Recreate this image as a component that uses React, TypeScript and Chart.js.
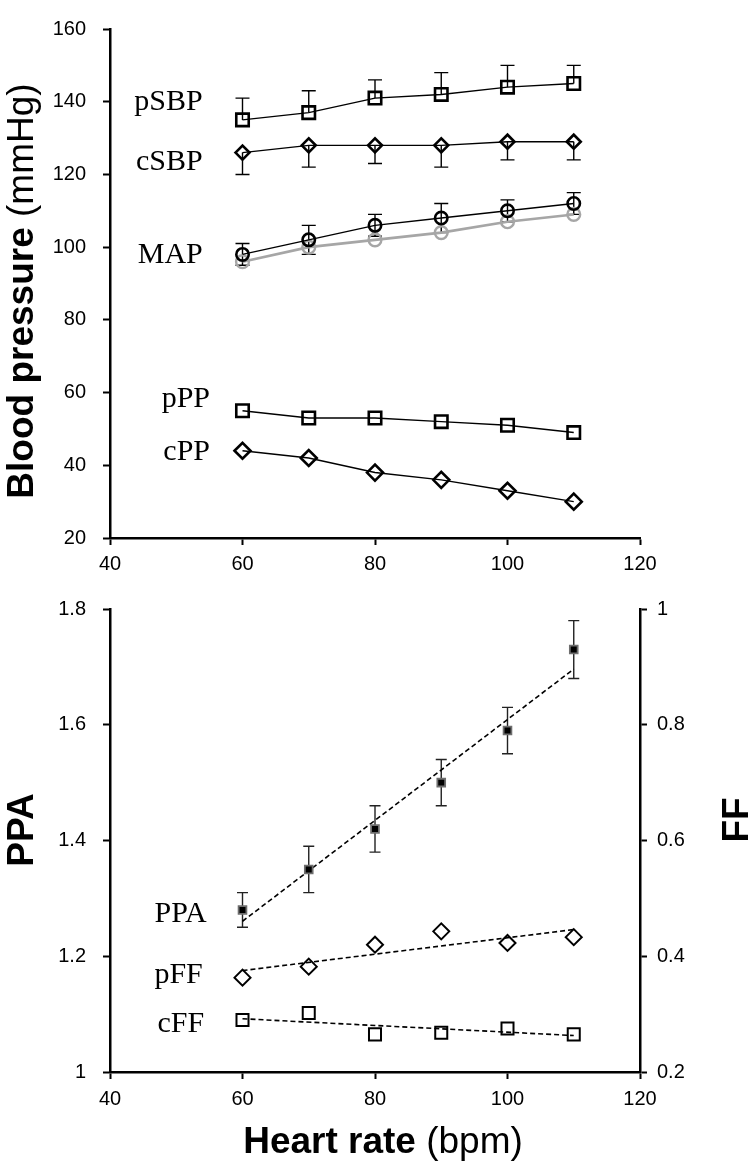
import React, { useEffect, useRef } from 'react';
import { Chart, registerables } from 'chart.js';
Chart.register(...registerables);

// ---------- data ----------
const heartRate = [60, 70, 80, 90, 100, 110];

const pSBP = [135, 137, 141, 142, 144, 145];
const pSBPErrUp = [6, 6, 5, 6, 6, 5];
const cSBP = [126, 128, 128, 128, 129, 129];
const cSBPErrDown = [6, 6, 5, 6, 5, 5];
const mapMeasured = [98, 102, 106, 108, 110, 112];
const mapErr = [3, 4, 3, 4, 3, 3];
const mapGrey = [96, 100, 102, 104, 107, 109];
const pPP = [55, 53, 53, 52, 51, 49];
const cPP = [44, 42, 38, 36, 33, 30];

const ppa = [1.28, 1.35, 1.42, 1.5, 1.59, 1.73];
const ppaErr = [0.03, 0.04, 0.04, 0.04, 0.04, 0.05];
const pFF = [0.363, 0.382, 0.42, 0.443, 0.423, 0.433];
const cFF = [0.29, 0.302, 0.265, 0.268, 0.275, 0.265];

const topLabels = ['pSBP', 'cSBP', 'MAP', 'pPP', 'cPP'];
const bottomLabels = ['PPA', 'pFF', 'cFF'];

// ---------- helpers ----------
const pts = (ys: number[]) => heartRate.map((x, i) => ({ x, y: ys[i] }));
const trend = (ys: number[]) => {
  const n = heartRate.length;
  const mx = heartRate.reduce((a, b) => a + b, 0) / n;
  const my = ys.reduce((a, b) => a + b, 0) / n;
  let sxy = 0, sxx = 0;
  heartRate.forEach((x, i) => { sxy += (x - mx) * (ys[i] - my); sxx += (x - mx) * (x - mx); });
  const b = sxy / sxx;
  const a = my - b * mx;
  const x0 = heartRate[0], x1 = heartRate[n - 1];
  return [{ x: x0, y: a + b * x0 }, { x: x1, y: a + b * x1 }];
};

const SANS = '"Liberation Sans", Arial, sans-serif';
const SERIF = '"Liberation Serif", "Times New Roman", serif';

const errorBarPlugin = {
  id: 'errorBars',
  beforeDatasetsDraw(chart: any) {
    const ctx = chart.ctx;
    chart.data.datasets.forEach((ds: any, i: number) => {
      if (!ds.errUp && !ds.errDown) return;
      const meta = chart.getDatasetMeta(i);
      const ys = chart.scales[ds.yAxisID || 'y'];
      const cap = ds.capWidth || 14;
      ctx.save();
      ctx.strokeStyle = ds.errColor || '#000';
      ctx.lineWidth = 1.4;
      meta.data.forEach((pt: any, j: number) => {
        const v = ds.data[j].y;
        const up = ds.errUp ? ds.errUp[j] : 0;
        const dn = ds.errDown ? ds.errDown[j] : 0;
        const x = pt.x;
        const yt = ys.getPixelForValue(v + up);
        const yb = ys.getPixelForValue(v - dn);
        ctx.beginPath();
        ctx.moveTo(x, yt); ctx.lineTo(x, yb);
        if (up) { ctx.moveTo(x - cap / 2, yt); ctx.lineTo(x + cap / 2, yt); }
        if (dn) { ctx.moveTo(x - cap / 2, yb); ctx.lineTo(x + cap / 2, yb); }
        ctx.stroke();
      });
      ctx.restore();
    });
  },
};

const seriesLabelPlugin = (items: any[]) => ({
  id: 'seriesLabels',
  afterDatasetsDraw(chart: any) {
    const ctx = chart.ctx;
    ctx.save();
    ctx.font = `30px ${SERIF}`;
    ctx.fillStyle = '#000';
    ctx.textAlign = 'right';
    ctx.textBaseline = 'middle';
    items.forEach((it) => {
      const x = chart.scales.x.getPixelForValue(it.x);
      const y = chart.scales[it.axis || 'y'].getPixelForValue(it.y);
      ctx.fillText(it.text, x, y);
    });
    ctx.restore();
  },
});

const titlePlugin = (titles: any[]) => ({
  id: 'titles',
  afterDraw(chart: any) {
    const ctx = chart.ctx;
    titles.forEach((t) => {
      ctx.save();
      ctx.translate(t.x, t.y);
      if (t.rotate) ctx.rotate(-Math.PI / 2);
      ctx.fillStyle = '#000';
      ctx.textBaseline = 'alphabetic';
      ctx.textAlign = 'left';
      const widths = t.parts.map((p: any) => { ctx.font = p.font; return ctx.measureText(p.text).width; });
      const total = widths.reduce((a: number, b: number) => a + b, 0);
      let cx = -total / 2;
      t.parts.forEach((p: any, i: number) => { ctx.font = p.font; ctx.fillText(p.text, cx, 0); cx += widths[i]; });
      ctx.restore();
    });
  },
});

const tickFont = { family: SANS, size: 20 };
const gridCfg = { display: true, drawOnChartArea: false, drawTicks: true, tickLength: 7, tickWidth: 2, tickColor: '#000' };
const borderCfg = { display: true, color: '#000', width: 2.5 };
const BOLD = `bold 37px ${SANS}`;
const REG = `37px ${SANS}`;

export default function App() {
  const topRef = useRef<HTMLCanvasElement>(null);
  const botRef = useRef<HTMLCanvasElement>(null);

  useEffect(() => {
    Chart.defaults.color = '#000';
    const line = (data: number[], extra: any) => ({
      data: pts(data),
      borderColor: '#000',
      borderWidth: 1.4,
      pointBackgroundColor: 'transparent',
      pointBorderColor: '#000',
      pointBorderWidth: 2.6,
      showLine: true,
      ...extra,
    });

    const top = new Chart(topRef.current as HTMLCanvasElement, {
      type: 'line',
      data: {
        datasets: [
          line(pSBP, { pointStyle: 'rect', pointRadius: 8.8, errUp: pSBPErrUp }),
          line(cSBP, { pointStyle: 'rectRot', pointRadius: 7, errDown: cSBPErrDown }),
          line(mapMeasured, { pointStyle: 'circle', pointRadius: 6.2, errUp: mapErr, errDown: mapErr }),
          line(mapGrey, { pointStyle: 'circle', pointRadius: 6.4, borderColor: '#a6a6a6', pointBorderColor: '#a6a6a6', borderWidth: 2.6, pointBorderWidth: 2.4 }),
          line(pPP, { pointStyle: 'rect', pointRadius: 8.8 }),
          line(cPP, { pointStyle: 'rectRot', pointRadius: 8 }),
        ] as any,
      },
      options: {
        animation: false,
        responsive: false,
        events: [],
        layout: { padding: { top: 23, right: 109, left: 0, bottom: 0 } },
        plugins: { legend: { display: false }, tooltip: { enabled: false } },
        scales: {
          x: {
            type: 'linear', min: 40, max: 120,
            ticks: { stepSize: 20, font: tickFont, color: '#000', padding: 7 },
            grid: gridCfg, border: borderCfg,
            afterFit: (s: any) => { s.height = 42; },
          },
          y: {
            type: 'linear', min: 20, max: 160,
            ticks: { stepSize: 20, font: tickFont, color: '#000', padding: 17 },
            grid: gridCfg, border: borderCfg,
            afterFit: (s: any) => { s.width = 110; },
          },
        },
      } as any,
      plugins: [
        errorBarPlugin,
        seriesLabelPlugin([
          { text: topLabels[0], x: 54.0, y: 140 },
          { text: topLabels[1], x: 54.0, y: 123.5 },
          { text: topLabels[2], x: 54.0, y: 97.7 },
          { text: topLabels[3], x: 55.1, y: 58.2 },
          { text: topLabels[4], x: 55.1, y: 43.5 },
        ]),
        titlePlugin([
          { x: 33, y: 291, rotate: true, parts: [{ text: 'Blood pressure', font: BOLD }, { text: ' (mmHg)', font: REG }] },
        ]),
      ],
    });

    const bot = new Chart(botRef.current as HTMLCanvasElement, {
      type: 'line',
      data: {
        datasets: [
          { data: pts(ppa), yAxisID: 'y', showLine: false, pointStyle: 'rect', pointRadius: 5.5, pointBackgroundColor: '#000', pointBorderColor: '#6e6e6e', pointBorderWidth: 1.8, errUp: ppaErr, errDown: ppaErr, capWidth: 11, errColor: '#222' },
          { data: trend(ppa), yAxisID: 'y', borderColor: '#000', borderWidth: 1.6, borderDash: [5, 3], pointRadius: 0 },
          { data: pts(pFF), yAxisID: 'y1', showLine: false, pointStyle: 'rectRot', pointRadius: 8, pointBackgroundColor: 'transparent', pointBorderColor: '#000', pointBorderWidth: 2 },
          { data: trend(pFF), yAxisID: 'y1', borderColor: '#000', borderWidth: 1.6, borderDash: [5, 3], pointRadius: 0 },
          { data: pts(cFF), yAxisID: 'y1', showLine: false, pointStyle: 'rect', pointRadius: 8.5, pointBackgroundColor: 'transparent', pointBorderColor: '#000', pointBorderWidth: 2 },
          { data: trend(cFF), yAxisID: 'y1', borderColor: '#000', borderWidth: 1.6, borderDash: [5, 3], pointRadius: 0 },
        ] as any,
      },
      options: {
        animation: false,
        responsive: false,
        events: [],
        layout: { padding: { top: 13, right: 0, left: 0, bottom: 0 } },
        plugins: { legend: { display: false }, tooltip: { enabled: false } },
        scales: {
          x: {
            type: 'linear', min: 40, max: 120,
            ticks: { stepSize: 20, font: tickFont, color: '#000', padding: 8 },
            grid: gridCfg, border: borderCfg,
            afterFit: (s: any) => { s.height = 103; },
          },
          y: {
            type: 'linear', position: 'left', min: 1, max: 1.8,
            ticks: { stepSize: 0.2, font: tickFont, color: '#000', padding: 17, callback: (v: any) => String(+Number(v).toFixed(1)) },
            grid: gridCfg, border: borderCfg,
            afterFit: (s: any) => { s.width = 110; },
          },
          y1: {
            type: 'linear', position: 'right', min: 0.2, max: 1,
            ticks: { stepSize: 0.2, font: tickFont, color: '#000', padding: 10, callback: (v: any) => String(+Number(v).toFixed(1)) },
            grid: gridCfg, border: borderCfg,
            afterFit: (s: any) => { s.width = 109; },
          },
        },
      } as any,
      plugins: [
        errorBarPlugin,
        seriesLabelPlugin([
          { text: bottomLabels[0], x: 54.6, y: 1.272 },
          { text: bottomLabels[1], x: 54.0, y: 1.168 },
          { text: bottomLabels[2], x: 54.2, y: 1.082 },
        ]),
        titlePlugin([
          { x: 33, y: 250, rotate: true, parts: [{ text: 'PPA', font: BOLD }] },
          { x: 748, y: 240, rotate: true, parts: [{ text: 'FF', font: BOLD }] },
          { x: 383, y: 573, rotate: false, parts: [{ text: 'Heart rate', font: BOLD }, { text: ' (bpm)', font: REG }] },
        ]),
      ],
    });

    return () => { top.destroy(); bot.destroy(); };
  }, []);

  return (
    <div style={{ position: 'absolute', left: 0, top: 0, width: 749, height: 1175, background: '#fff' }}>
      <canvas ref={topRef} width={749} height={580} style={{ position: 'absolute', left: 0, top: 0, display: 'block' }} />
      <canvas ref={botRef} width={749} height={595} style={{ position: 'absolute', left: 0, top: 580, display: 'block' }} />
    </div>
  );
}
